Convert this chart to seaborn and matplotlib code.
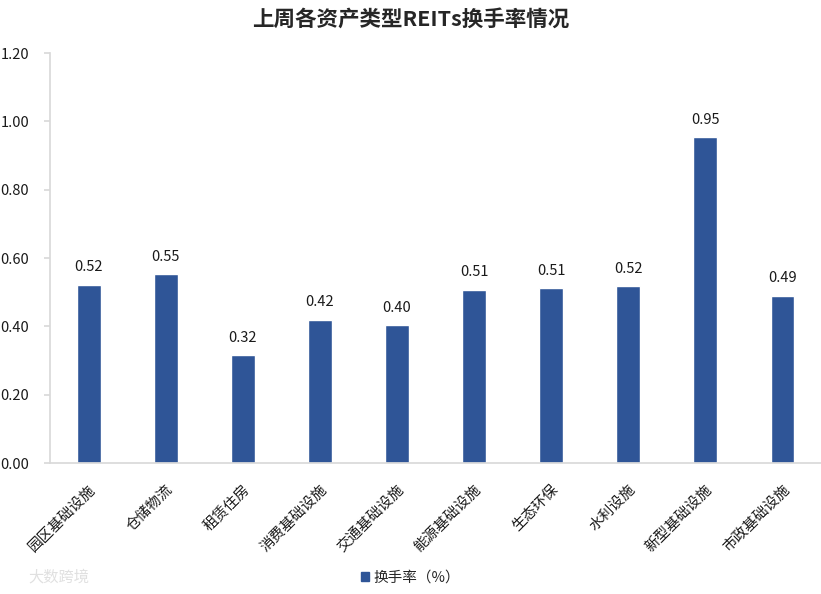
import matplotlib
matplotlib.use("Agg")
import matplotlib.pyplot as plt
import seaborn as sns
import pandas as pd
from matplotlib.patches import Patch

categories = ["园区基础设施", "仓储物流", "租赁住房", "消费基础设施", "交通基础设施",
              "能源基础设施", "生态环保", "水利设施", "新型基础设施", "市政基础设施"]
values = [0.522, 0.554, 0.317, 0.420, 0.404, 0.508, 0.513, 0.517, 0.954, 0.490]
yticks = [0.0, 0.2, 0.4, 0.6, 0.8, 1.0, 1.2]
series_name = "换手率（%）"
title = "上周各资产类型REITs换手率情况"

sns.set_theme(style="white")
plt.rcParams['font.family'] = ['Noto Sans CJK SC', 'DejaVu Sans']

df = pd.DataFrame({"cat": categories, "val": values, "series": series_name})

fig = plt.figure(figsize=(8.21, 5.94), dpi=100)
ax = fig.add_axes([0.061, 0.2205, 0.939, 0.690])
color = "#2F5597"
sns.barplot(data=df, x="cat", y="val", hue="series", palette=[color], ax=ax,
            width=0.31, legend=False, saturation=1)

for i, v in enumerate(values):
    ax.text(i, v + 0.03, f"{v:.2f}", ha="center", va="bottom", fontsize=10.5, color="#1a1a1a")

ax.set_ylim(0, 1.2)
ax.set_xlim(-0.5, len(categories) - 0.5)
ax.set_yticks(yticks)
ax.set_yticklabels([f"{t:.2f}" for t in yticks], fontsize=10.5, color="#1a1a1a")
ax.set_xticks(range(len(categories)))
ax.set_xticklabels(categories, rotation=45, ha="right", rotation_mode="anchor",
                   fontsize=10.5, color="#1a1a1a")
ax.set_xlabel("")
ax.set_ylabel("")
for s in ["top", "right"]:
    ax.spines[s].set_visible(False)
ax.spines["left"].set_color("#D9D9D9")
ax.spines["bottom"].set_color("#D9D9D9")
ax.tick_params(axis="y", which="both", left=True, length=4, color="#D9D9D9", pad=11)
ax.tick_params(axis="x", bottom=False, pad=8)

fig.suptitle(title, fontsize=15.5, fontweight="bold", y=0.985)

fig.legend(handles=[Patch(color=color, label=series_name)], loc="center",
           bbox_to_anchor=(0.5, 0.028), frameon=False, fontsize=10.5,
           handlelength=0.6, handleheight=0.6, handletextpad=0.3)

fig.text(0.035, 0.028, "大数跨境", fontsize=11, color="#E0E0E0", va="center")

fig.savefig("out.png", dpi=100)
